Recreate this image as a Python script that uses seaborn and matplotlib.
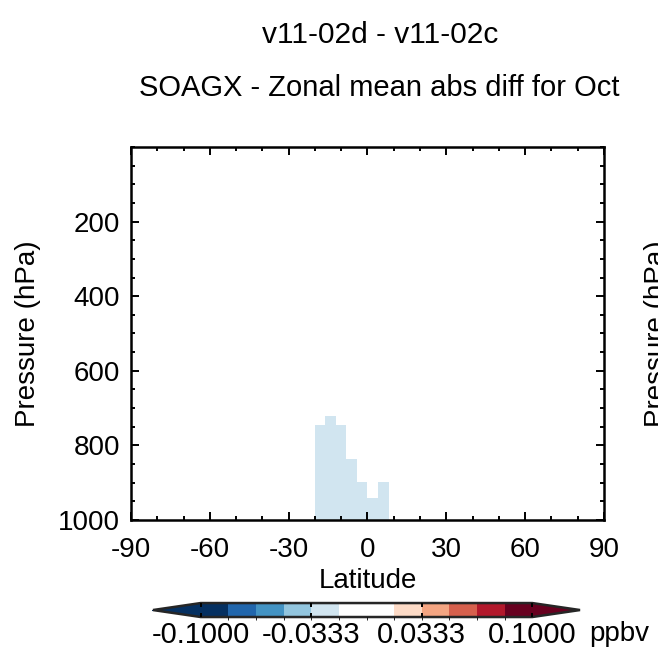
import matplotlib
matplotlib.use("Agg")
import numpy as np
import matplotlib.pyplot as plt
from matplotlib.colors import ListedColormap, BoundaryNorm
from matplotlib.ticker import MultipleLocator
import seaborn as sns

# --- data: zonal mean abs diff (ppbv), latitude x pressure cells ---
lat_edges = [-90, -20, -16, -12, -8, -4, 0, 4, 8, 90]
plev_edges = [0, 721, 745, 836, 898, 941, 1000]
diff = [
    [0, 0, 0, 0, 0, 0, 0, 0, 0],
    [0, 0, -0.02, 0, 0, 0, 0, 0, 0],
    [0, -0.02, -0.02, -0.02, 0, 0, 0, 0, 0],
    [0, -0.02, -0.02, -0.02, -0.02, 0, 0, 0, 0],
    [0, -0.02, -0.02, -0.02, -0.02, -0.02, 0, -0.02, 0],
    [0, -0.02, -0.02, -0.02, -0.02, -0.02, -0.02, -0.02, 0],
]

levels = [-0.1, -0.08333, -0.06667, -0.05, -0.03333, -0.01667, 0.0,
          0.01667, 0.03333, 0.05, 0.06667, 0.08333, 0.1]
cbar_ticks = [-0.1, -0.0333, 0.0333, 0.1]
cbar_labels = ["-0.1000", "-0.0333", "0.0333", "0.1000"]
colors = ["#053061", "#2166ac", "#4393c3", "#92c5de", "#d1e5f0", "#ffffff",
          "#ffffff", "#fddbc7", "#f4a582", "#d6604d", "#b2182b", "#67001f"]

sns.set_style("white")
plt.rcParams["font.family"] = ["Liberation Sans", "DejaVu Sans"]
plt.rcParams["font.size"] = 20
plt.rcParams["axes.unicode_minus"] = False
plt.rcParams["axes.axisbelow"] = False
plt.rcParams["text.color"] = "black"
plt.rcParams["axes.labelcolor"] = "black"
plt.rcParams["xtick.color"] = "black"
plt.rcParams["ytick.color"] = "black"

pal = sns.color_palette(colors)
cmap = ListedColormap(pal)
cmap.set_under(colors[0])
cmap.set_over(colors[-1])
norm = BoundaryNorm(levels, ncolors=len(colors))

fig = plt.figure(figsize=(6.58, 6.53), dpi=100)
ax = fig.add_axes([0.1991, 0.2037, 0.7188, 0.5712])

mesh = ax.pcolormesh(lat_edges, plev_edges, np.array(diff), cmap=cmap, norm=norm)

ax.set_xlim(-90, 90)
ax.set_ylim(1000, 0)
ax.xaxis.set_major_locator(MultipleLocator(30))
ax.xaxis.set_minor_locator(MultipleLocator(10))
ax.set_yticks([200, 400, 600, 800, 1000])
ax.yaxis.set_minor_locator(MultipleLocator(50))
ax.tick_params(which="both", direction="in", bottom=True, left=True,
               top=True, right=True, width=1.4, colors="black", labelsize=20)
ax.tick_params(which="major", length=6)
ax.tick_params(which="minor", length=3)
ax.tick_params(axis="x", pad=12)
ax.tick_params(axis="y", pad=8)
ax.set_axisbelow(False)
for s in ax.spines.values():
    s.set_linewidth(1.8)
    s.set_color("black")

ax.set_xlabel("Latitude", fontsize=20, labelpad=4)
ax.set_ylabel("Pressure (hPa)", fontsize=20, labelpad=12)

fig.text(0.577, 0.946, "v11-02d - v11-02c", ha="center", va="center", fontsize=21.5)
fig.text(0.577, 0.865, "SOAGX - Zonal mean abs diff for Oct", ha="center",
         va="center", fontsize=21)

# edge of the next panel's label
fig.text(0.998, 0.489, "Pressure (hPa)", rotation=90, ha="center",
         va="center", fontsize=20)

cax = fig.add_axes([0.2325, 0.0551, 0.649, 0.0214])
cb = fig.colorbar(mesh, cax=cax, orientation="horizontal", extend="both",
                  extendfrac=0.144, ticks=cbar_ticks)
cb.ax.set_xticklabels(cbar_labels)
cb.ax.set_axisbelow(False)
cb.ax.tick_params(direction="in", bottom=True, top=True, length=3, width=1.4,
                  labelsize=21, pad=3)
cb.outline.set_linewidth(1.8)
fig.text(0.895, 1 - 634 / 653, "ppbv", ha="left", va="center", fontsize=20)

fig.savefig("out.png", dpi=100)
